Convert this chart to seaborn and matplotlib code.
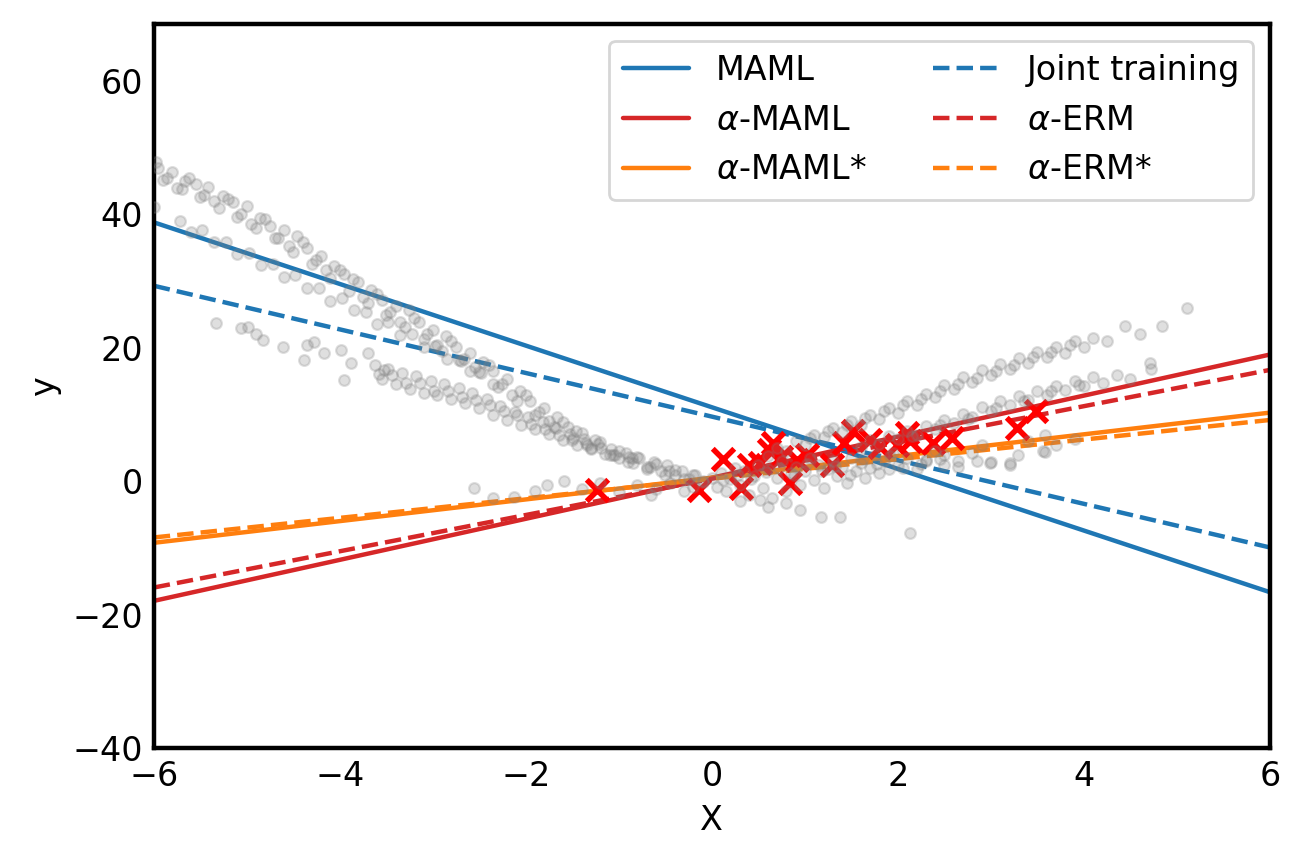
import numpy as np
import pandas as pd
import matplotlib
matplotlib.use("Agg")
import matplotlib.pyplot as plt
import seaborn as sns

# fitted lines, values at the two ends of the x range
line_x = [-6, 6]
maml_y = [38.8, -16.6]
alpha_maml_y = [-17.9, 19.0]
alpha_maml_star_y = [-9.2, 10.3]
joint_y = [29.3, -9.9]
alpha_erm_y = [-15.9, 16.7]
alpha_erm_star_y = [-8.4, 9.2]

# support points of the test task (red crosses)
task_x = [-1.23, -0.14, 0.12, 0.31, 0.40, 0.66, 0.61, 0.52, 0.74, 0.84, 0.92, 1.02,
          1.29, 1.52, 1.42, 1.70, 1.81, 2.10, 2.13, 1.99, 2.38, 2.58, 3.28, 3.48]
task_y = [-1.3, -1.3, 3.3, -1.0, 2.5, 5.7, 4.7, 2.7, 3.7, -0.3, 3.2, 4.0,
          2.5, 7.5, 5.7, 6.2, 5.2, 7.2, 6.0, 5.5, 5.7, 6.5, 8.0, 10.5]

# training tasks (gray points), read band by band
band_a_x = [-5.98, -5.9, -5.8, -5.7, -5.62, -5.5, -5.42, -5.3, -5.2, -5.1, -5.0, -4.9,
            -4.8, -4.7, -4.6, -4.5, -4.4, -4.3, -4.2, -4.1, -4.0, -3.9, -3.8, -3.7,
            -3.6, -3.5, -3.4, -3.3, -3.2, -3.1, -3.0, -2.9, -2.8, -2.7, -2.6, -2.5,
            -2.4, -2.3, -2.2, -2.1, -2.0, -1.9, -1.8, -1.7, -1.6, -1.5, -1.4, -1.3,
            -1.2, -1.1, -1.0, -0.9, -0.8, -0.7, -0.6, -0.5, -0.4, -0.3, -0.2, -0.1,
            -5.95, -5.75, -5.55, -5.35, -5.15, -4.95, -4.75, -4.55, -4.35, -4.15,
            -3.95, -3.75, -3.55, -3.35, -3.15, -2.95, -2.75, -2.55, -2.35, -2.15,
            -1.95, -1.75, -1.55, -1.35, -6.0,
            -5.86, -5.66, -5.46, -5.26, -5.06, -4.86, -4.66, -4.46, -4.26, -4.06,
            -3.86, -3.66, -3.46, -3.26, -3.06, -2.86, -2.66, -2.46, -2.26, -2.06,
            -1.86, -1.66, -1.46, -1.26, -1.06, -0.86, -0.66, -0.46]
band_a_y = [47.8, 45.2, 46.4, 43.8, 45.5, 42.6, 44.1, 41.0, 42.3, 39.6, 41.2, 38.0,
            39.3, 36.4, 37.6, 34.4, 35.8, 32.6, 33.7, 30.4, 31.6, 28.5, 29.9, 26.7,
            28.0, 24.9, 26.3, 23.1, 24.5, 21.3, 22.6, 19.6, 21.0, 18.0, 19.3, 16.4,
            17.5, 14.2, 15.3, 12.0, 13.0, 10.0, 11.0, 8.1, 8.9, 6.2, 7.2, 5.0,
            5.9, 3.9, 4.6, 2.9, 3.6, 1.9, 2.6, 1.0, 1.7, 0.4, 1.0, -0.1,
            46.9, 44.0, 44.6, 42.0, 41.9, 38.6, 38.3, 35.2, 35.0, 31.6,
            31.0, 27.6, 27.1, 23.9, 23.8, 20.5, 20.2, 17.2, 16.5, 13.0,
            12.1, 9.0, 8.1, 5.7, 41.1,
            45.4, 45.0, 42.9, 42.8, 40.0, 39.5, 36.5, 36.8, 33.1, 32.3,
            30.3, 28.6, 25.4, 25.6, 22.0, 21.8, 18.4, 17.9, 14.6, 13.5,
            10.4, 9.6, 7.6, 6.2, 4.0, 3.5, 2.1, 1.5]

band_b_x = [-5.72, -5.6, -5.48, -5.35, -5.22, -5.1, -4.98, -4.85, -4.72, -4.6, -4.48, -4.35,
            -4.22, -4.1, -3.98, -3.85, -3.72, -3.6, -3.48, -3.35, -3.22, -3.1, -2.98, -2.85,
            -2.72, -2.6, -2.48, -2.35]
band_b_y = [39.0, 37.4, 37.6, 35.8, 35.9, 34.0, 34.2, 32.4, 32.5, 30.6, 30.9, 29.0,
            28.9, 27.0, 27.4, 25.6, 25.3, 23.6, 23.8, 21.9, 22.0, 20.1, 20.3, 18.3,
            18.2, 16.5, 16.3, 14.6]

band_c_x = [-5.33, -5.06, -4.99, -4.90, -4.83, -4.61, -4.35, -4.28, -4.39, -4.17, -3.99, -3.88,
            -3.70, -3.53, -3.96,
            -3.62, -3.55, -3.48, -3.4, -3.33, -3.25, -3.18, -3.1, -3.02, -2.95, -2.88, -2.8,
            -2.72, -2.65, -2.58, -2.5, -2.42, -2.35, -2.28, -2.2, -2.12, -2.05, -1.98, -1.9,
            -1.82, -1.75, -1.68, -1.6, -1.52, -1.45, -1.38, -1.3, -1.22, -1.15, -1.08, -1.0,
            -0.92, -0.85, -0.78, -0.7, -0.62, -0.55, -0.48, -0.4, -0.32, -0.25, -0.18, -0.1,
            -3.58, -3.44, -3.29, -3.14, -2.99, -2.84, -2.69, -2.54, -2.39, -2.24, -2.09,
            -1.94, -1.79, -1.64, -1.49, -1.34, -1.19, -1.04, -0.89]
band_c_y = [23.7, 23.0, 23.1, 22.0, 21.2, 20.2, 20.4, 20.9, 18.2, 19.2, 19.7, 17.8,
            19.2, 16.7, 15.2,
            17.4, 15.3, 16.9, 14.6, 16.3, 13.9, 15.8, 13.2, 15.0, 12.9, 14.6, 12.4,
            14.0, 11.8, 13.3, 11.0, 12.3, 10.0, 11.3, 9.2, 10.4, 8.5, 9.6, 7.8,
            8.9, 7.1, 8.0, 6.2, 7.1, 5.5, 6.4, 4.8, 5.6, 4.1, 4.9, 3.5,
            4.2, 2.8, 3.5, 2.2, 2.9, 1.6, 2.4, 1.0, 1.6, 0.4, 1.0, 0.0,
            16.1, 15.9, 14.8, 14.7, 13.6, 13.5, 12.7, 12.2, 11.4, 10.6, 9.9,
            8.6, 7.9, 6.9, 6.5, 5.4, 5.0, 4.0, 3.6]

band_low_x = [-2.56, -2.35, -2.13, -1.77, -1.59, -1.9, -1.4, -1.2, -1.0, -0.8, -0.65]
band_low_y = [-1.0, -2.5, -2.3, -0.5, 0.0, -1.5, -1.2, -0.3, -1.6, -0.6, -2.0]

center_x = [0.0, 0.05, 0.1, 0.15, 0.2, 0.25, 0.3, 0.35, 0.4, 0.45, 0.5, 0.55, 0.6, 0.65,
            0.7, 0.75, 0.8, 0.85, 0.9, 0.95, 1.0, 1.05, 1.1, 1.15, 1.2, 1.25, 1.3, 1.35,
            1.4, 1.45, 1.5, 1.55, 1.6, 1.65, 1.7, 1.75, 1.8, 1.85, 1.9, 1.95, 2.0, 2.1,
            2.2, 2.3, 2.4, 2.5, -0.2, -0.3, -0.45, -0.6, 0.52, 0.6, 0.95, 0.3, 0.8,
            1.17, 1.38, 2.13,
            0.12, 0.28, 0.42, 0.58, 0.72, 0.88, 1.02, 1.18, 1.32, 1.48, 1.62, 1.78,
            1.92, 2.05, 2.25, 2.45, 2.65, 2.85]
center_y = [0.5, -0.8, 1.2, -1.5, 0.3, 2.0, -0.5, 1.5, -2.0, 0.8, 2.5, -1.0, 1.8, -2.5,
            0.5, 3.0, -1.5, 1.2, 2.2, -0.5, 1.5, 3.5, 0.2, 2.5, -1.0, 1.8, 3.0, 0.8,
            2.2, -0.2, 3.5, 1.5, 2.8, 0.5, 2.0, 4.0, 1.2, 3.0, 1.8, 4.2, 2.5, 3.5,
            1.8, 3.0, 4.5, 2.5, -0.8, -1.5, -0.3, -1.2, -2.8, -3.8, -4.3, -3.0, -3.2,
            -5.3, -5.4, -7.7,
            0.2, 1.0, 0.4, 1.4, 2.0, 0.9, 2.6, 1.6, 2.3, 1.0, 3.4, 2.6,
            3.8, 2.0, 2.6, 3.4, 2.2, 3.0]

band_r1_x = [0.6, 0.7, 0.8, 0.9, 1.0, 1.1, 1.2, 1.3, 1.4, 1.5, 1.6, 1.7, 1.8, 1.9, 2.0,
             2.1, 2.2, 2.3, 2.4, 2.5, 2.6, 2.7, 2.8, 2.9, 3.0, 3.1, 3.2, 3.3, 3.4, 3.5,
             3.6, 3.7, 3.8, 3.9, 4.0, 4.1, 4.25, 4.44, 4.84, 5.11, 4.6,
             1.05, 1.25, 1.45, 1.65, 1.85, 2.05, 2.25, 2.45, 2.65, 2.85, 3.05, 3.25,
             3.45, 3.65, 3.85]
band_r1_y = [3.8, 5.0, 4.6, 6.0, 5.5, 7.0, 6.6, 8.0, 7.4, 9.0, 8.4, 10.0, 9.4, 11.0, 10.3,
             12.0, 11.4, 13.1, 12.6, 14.5, 13.8, 15.6, 14.9, 16.7, 16.0, 17.6, 16.9, 18.5, 17.8, 19.4,
             18.6, 20.1, 19.3, 21.0, 20.2, 21.5, 21.0, 23.2, 23.2, 26.0, 22.0,
             6.5, 7.6, 8.4, 9.5, 10.5, 11.5, 12.4, 13.5, 14.6, 15.5, 16.6, 17.4,
             18.6, 19.4, 20.4]

band_r2_x = [1.6, 1.7, 1.8, 1.9, 2.0, 2.1, 2.2, 2.3, 2.4, 2.5, 2.6, 2.7, 2.8, 2.9, 3.0,
             3.1, 3.2, 3.3, 3.4, 3.5, 3.6, 3.7, 3.8, 3.9, 4.0, 4.1, 4.2, 4.35, 4.5, 4.71, 4.72,
             2.15, 2.45, 2.75, 3.05, 3.35, 3.65, 3.95]
band_r2_y = [5.2, 6.2, 5.6, 6.8, 6.3, 7.5, 7.0, 8.3, 7.8, 9.2, 8.7, 10.1, 9.6, 11.2, 10.6,
             12.0, 11.4, 12.8, 12.2, 13.6, 13.0, 14.3, 13.7, 15.0, 14.3, 15.6, 14.8, 16.0, 15.4, 17.7, 16.8,
             6.8, 8.4, 9.4, 11.0, 12.0, 13.6, 14.5]

band_r3_x = [2.3, 2.5, 2.65, 2.8, 2.99, 3.2, 3.2, 3.29, 3.56, 3.58, 3.58, 3.0, 2.9, 3.4, 3.7, 3.9]
band_r3_y = [3.2, 4.0, 3.0, 4.3, 2.7, 2.5, 2.8, 4.0, 4.5, 7.0, 4.4, 2.9, 5.5, 6.0, 5.5, 6.3]

train = pd.DataFrame({
    "x": band_a_x + band_b_x + band_c_x + band_low_x + center_x + band_r1_x + band_r2_x + band_r3_x,
    "y": band_a_y + band_b_y + band_c_y + band_low_y + center_y + band_r1_y + band_r2_y + band_r3_y,
})

sns.set_style("white")
plt.rcParams.update({
    "font.family": ["DejaVu Sans"],
    "font.size": 12,
    "axes.edgecolor": "black",
    "axes.labelcolor": "black",
    "text.color": "black",
    "xtick.color": "black",
    "ytick.color": "black",
})

fig = plt.figure(figsize=(6.515, 4.315), dpi=200)
ax = fig.add_axes([0.118, 0.1327, 0.8567, 0.8395])

blue, orange, red = "#1f77b4", "#ff7f0e", "#d62728"
lw = 1.6
sns.lineplot(x=line_x, y=maml_y, color=blue, lw=lw, label="MAML", ax=ax)
sns.lineplot(x=line_x, y=alpha_maml_y, color=red, lw=lw, label=r"$\alpha$-MAML", ax=ax)
sns.lineplot(x=line_x, y=alpha_maml_star_y, color=orange, lw=lw, label=r"$\alpha$-MAML*", ax=ax)
sns.lineplot(x=line_x, y=joint_y, color=blue, lw=lw, linestyle="--", label="Joint training", ax=ax)
sns.lineplot(x=line_x, y=alpha_erm_y, color=red, lw=lw, linestyle="--", label=r"$\alpha$-ERM", ax=ax)
sns.lineplot(x=line_x, y=alpha_erm_star_y, color=orange, lw=lw, linestyle="--", label=r"$\alpha$-ERM*", ax=ax)

sns.scatterplot(x=task_x, y=task_y, marker="x", color="red", s=60, linewidth=2.0, zorder=3, ax=ax)
sns.scatterplot(data=train, x="x", y="y", color="gray", edgecolor="gray", s=15, linewidth=0.8,
                alpha=0.25, zorder=4, ax=ax)

ax.set_xlim(-6, 6)
ax.set_ylim(-40, 68.5)
ax.set_xticks([-6, -4, -2, 0, 2, 4, 6])
ax.set_yticks([-40, -20, 0, 20, 40, 60])
ax.tick_params(length=0, pad=4, labelsize=12)
for sp in ax.spines.values():
    sp.set_color("black")
    sp.set_linewidth(1.6)
ax.set_xlabel("X", fontsize=12)
ax.set_ylabel("y", fontsize=12)

handles, labels = ax.get_legend_handles_labels()
ax.legend(handles, labels, ncol=2, loc="upper right", fontsize=12, frameon=True)

fig.savefig("out.png", dpi=200)
